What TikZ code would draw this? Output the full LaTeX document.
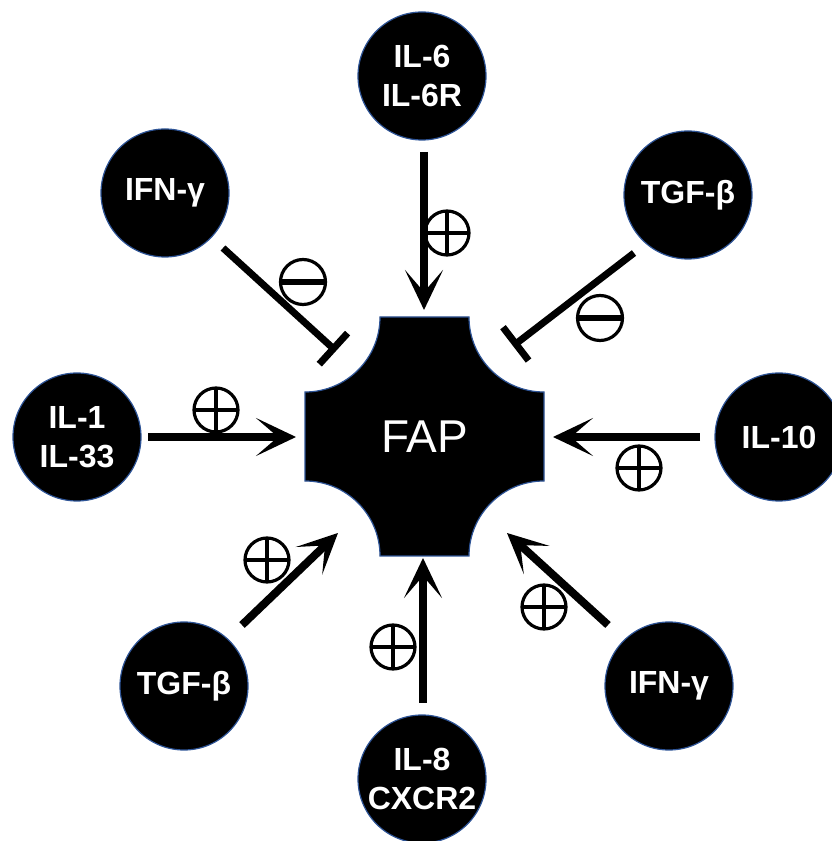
\documentclass[tikz,border=0pt]{standalone}
\usepackage{fontspec}
\setmainfont{Liberation Sans}
\usetikzlibrary{arrows.meta}
\definecolor{edgeblue}{RGB}{46,84,150}
\tikzset{
  cyto/.style={circle, fill=black, draw=edgeblue, line width=1.2pt, minimum size=128pt, inner sep=0pt,
    text=white, align=center, font=\bfseries\fontsize{32}{39}\selectfont},
  act/.style={line width=8pt, -{Stealth[length=40pt, width=38pt, inset=22pt]}},
  inh/.style={line width=7pt, -{Bar[width=42pt]}},
  plussign/.style={circle, draw=black, line width=3.2pt, minimum size=44pt, inner sep=0pt,
    path picture={\draw[line width=3.5pt] (path picture bounding box.north) -- (path picture bounding box.south)
      (path picture bounding box.west) -- (path picture bounding box.east);}},
  minussign/.style={circle, draw=black, line width=3.2pt, minimum size=45pt, inner sep=0pt,
    path picture={\draw[line width=5.5pt] (path picture bounding box.west) -- (path picture bounding box.east);}},
}
\begin{document}
\begin{tikzpicture}[x=1pt, y=1pt]
\useasboundingbox (0,0) rectangle (832,841);
% FAP shape
\fill[black, draw=edgeblue, line width=1.2pt]
  (380,524) -- (469,524) arc[start angle=180, end angle=270, radius=75pt]
  -- (544,360) arc[start angle=90, end angle=180, radius=75pt]
  -- (380,285) arc[start angle=0, end angle=90, radius=75pt]
  -- (305,449) arc[start angle=-90, end angle=0, radius=75pt] -- cycle;
\node[text=white, font=\fontsize{46}{50}\selectfont] (fap) at (424.5,404.5) {FAP};

% cytokine circles
\node[cyto] (il6) at (422,765) {IL-6\\IL-6R};
\node[cyto] (ifntl) at (165,648) {IFN-γ};
\node[cyto] (tgftr) at (688,646) {TGF-β};
\node[cyto] (il1) at (77,404) {IL-1\\IL-33};
\node[cyto] (il10) at (779,404) {IL-10};
\node[cyto] (tgfbl) at (184,155) {TGF-β};
\node[cyto] (ifnbr) at (669,155) {IFN-γ};
\node[cyto] (il8) at (422,62) {IL-8\\CXCR2};

% connector end points
\coordinate (a6s) at (424,689);  \coordinate (a6e) at (424,531);
\coordinate (a8s) at (423,138);  \coordinate (a8e) at (423,283);
\coordinate (a1s) at (148,404);  \coordinate (a1e) at (296,404);
\coordinate (a10s) at (700,404); \coordinate (a10e) at (553,404);
\coordinate (atbs) at (242,216); \coordinate (atbe) at (338,308);
\coordinate (aibs) at (608,216); \coordinate (aibe) at (507,308);
\coordinate (iits) at (223,593); \coordinate (iite) at (336,490);
\coordinate (itts) at (634,588); \coordinate (itte) at (513,495);

\draw[act] (a6s) -- (a6e);
\draw[act] (a8s) -- (a8e);
\draw[act] (a1s) -- (a1e);
\draw[act] (a10s) -- (a10e);
\draw[act] (atbs) -- (atbe);
\draw[act] (aibs) -- (aibe);
\draw[inh] (iits) -- (iite);
\draw[inh] (itts) -- (itte);

% signs
\node[plussign] (p6) at (447,608) {};
\node[plussign] (p8) at (393,194) {};
\node[plussign] (p1) at (216,431) {};
\node[plussign] (p10) at (639,373) {};
\node[plussign] (ptb) at (267,281) {};
\node[plussign] (pib) at (544,234) {};
\node[minussign] (mit) at (303,559) {};
\node[minussign] (mtt) at (600,523) {};
\end{tikzpicture}
\end{document}
